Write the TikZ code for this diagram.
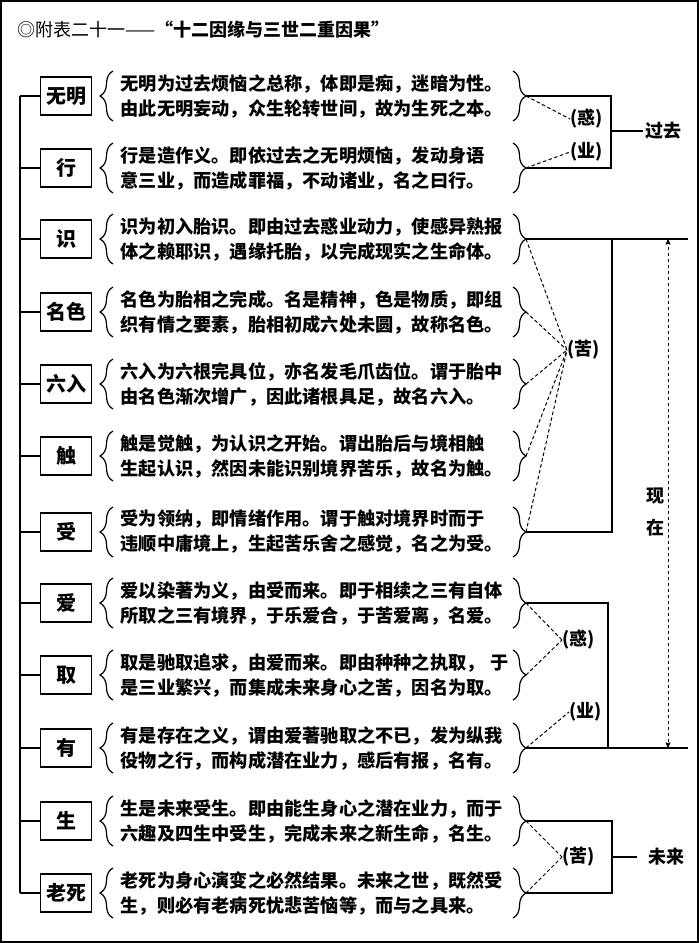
\documentclass[tikz,border=0pt]{standalone}
\usepackage{fontspec}
\setmainfont{Noto Sans CJK SC}
\usetikzlibrary{calc,arrows,decorations.pathreplacing}
\tikzset{>=stealth'}
\tikzset{
  termbox/.style={draw,minimum width=51pt,minimum height=38pt,inner sep=0,font=\fontsize{20}{20}\selectfont\bfseries},
  desc/.style={anchor=west,align=left,inner sep=0,font=\fontsize{18.2}{25}\selectfont\bfseries},
  curly/.style={decorate,decoration={brace,amplitude=13pt}},
  tag/.style={anchor=west,inner sep=0,font=\fontsize{18}{18}\selectfont\bfseries},
  link/.style={dash pattern=on 3.5pt off 2.5pt,line width=1pt},
}

\begin{document}
\begin{tikzpicture}[x=1pt,y=-1pt,line width=1.2pt]
        \useasboundingbox (0,0) rectangle (699,943);
        \draw[line width=2.2pt] (1,1) rectangle (698,942);
        \node[tag,font=\fontsize{18}{18}\selectfont] (title) at (17,30) {◎附表二十一——\textbf{“十二因缘与三世二重因果”}};
        \foreach \i/\y/\name/\la/\lb in {
          1/96/无明/无明为过去烦恼之总称，体即是痴，迷暗为性。/由此无明妄动，众生轮转世间，故为生死之本。,
          2/168/行/行是造作义。即依过去之无明烦恼，发动身语/意三业，而造成罪福，不动诸业，名之曰行。,
          3/239/识/识为初入胎识。即由过去惑业动力，使感异熟报/体之赖耶识，遇缘托胎，以完成现实之生命体。,
          4/312/名色/名色为胎相之完成。名是精神，色是物质，即组/织有情之要素，胎相初成六处未圆，故称名色。,
          5/384/六入/六入为六根完具位，亦名发毛爪齿位。谓于胎中/由名色渐次增广，因此诸根具足，故名六入。,
          6/456/触/触是觉触，为认识之开始。谓出胎后与境相触/生起认识，然因未能识别境界苦乐，故名为触。,
          7/532/受/受为领纳，即情绪作用。谓于触对境界时而于/违顺中庸境上，生起苦乐舍之感觉，名之为受。,
          8/603/爱/爱以染著为义，由受而来。即于相续之三有自体/所取之三有境界，于乐爱合，于苦爱离，名爱。,
          9/675/取/取是驰取追求，由爱而来。即由种种之执取，\hspace{6pt}于/是三业繁兴，而集成未来身心之苦，因名为取。,
          10/748/有/有是存在之义，谓由爱著驰取之不已，发为纵我/役物之行，而构成潜在业力，感后有报，名有。,
          11/821/生/生是未来受生。即由能生身心之潜在业力，而于/六趣及四生中受生，完成未来之新生命，名生。,
          12/893/老死/老死为身心演变之必然结果。未来之世，既然受/生，则必有老病死忧悲苦恼等，而与之具来。} {
          \node[termbox] (b\i) at (66,\y) {\name};
          \coordinate (l\i) at (20,\y);
          \draw (l\i) -- (b\i.west);
          \draw[curly] (113,{\y+25}) -- (113,{\y-25});
          \node[desc] (t\i) at (120,\y) {\la\\\lb};
          \draw[curly] (513,{\y-25}) -- (513,{\y+25});
          \coordinate (r\i) at (526,\y);
        }
        \draw (l1) -- (l12);
        % past
        \node[tag] (huoA) at (570,119) {(惑)};
        \node[tag] (yeA) at (570,152) {(业)};
        \draw[link] (r1) -- (huoA.west);
        \draw[link] (r2) -- (yeA.west);
        \coordinate (pastj) at (611,131);
        \draw (r1) -| (pastj) |- (r2);
        \node[tag] (guoqu) at (645,131) {过去};
        \draw (pastj) -- ([xshift=-2pt]guoqu.west);
        % present
        \coordinate (ptop) at (688,239);
        \coordinate (pin) at (612,239);
        \draw (r3) -- (ptop);
        \draw (r7) -| (pin);
        \node[tag] (kuA) at (567,350) {(苦)};
        \foreach \i in {3,...,7} \draw[link] (r\i) -- (kuA.west);
        \coordinate (pbot) at (688,748);
        \coordinate (pin2) at (608,748);
        \draw (r10) -- (pbot);
        \draw (r8) -| (pin2);
        \node[tag] (huoB) at (562,640) {(惑)};
        \node[tag] (yeB) at (569,712) {(业)};
        \draw[link] (r8) -- (huoB.west);
        \draw[link] (r9) -- (huoB.west);
        \draw[link] (r10) -- (yeB.west);
        \coordinate (atop) at (668,239);
        \coordinate (abot) at (668,748);
        \draw[link,<->] (atop) -- (abot);
        \node[tag,anchor=center] (xian) at (655,496) {现};
        \node[tag,anchor=center] (zai) at (655,528) {在};
        % future
        \coordinate (futj) at (612,857);
        \draw (r11) -| (futj) |- (r12);
        \node[tag] (kuB) at (562,857) {(苦)};
        \draw[link] (r11) -- (kuB.west);
        \draw[link] (r12) -- (kuB.west);
        \node[tag] (weilai) at (648,857) {未来};
        \draw (futj) -- ([xshift=-11pt]weilai.west);
\end{tikzpicture}
\end{document}
